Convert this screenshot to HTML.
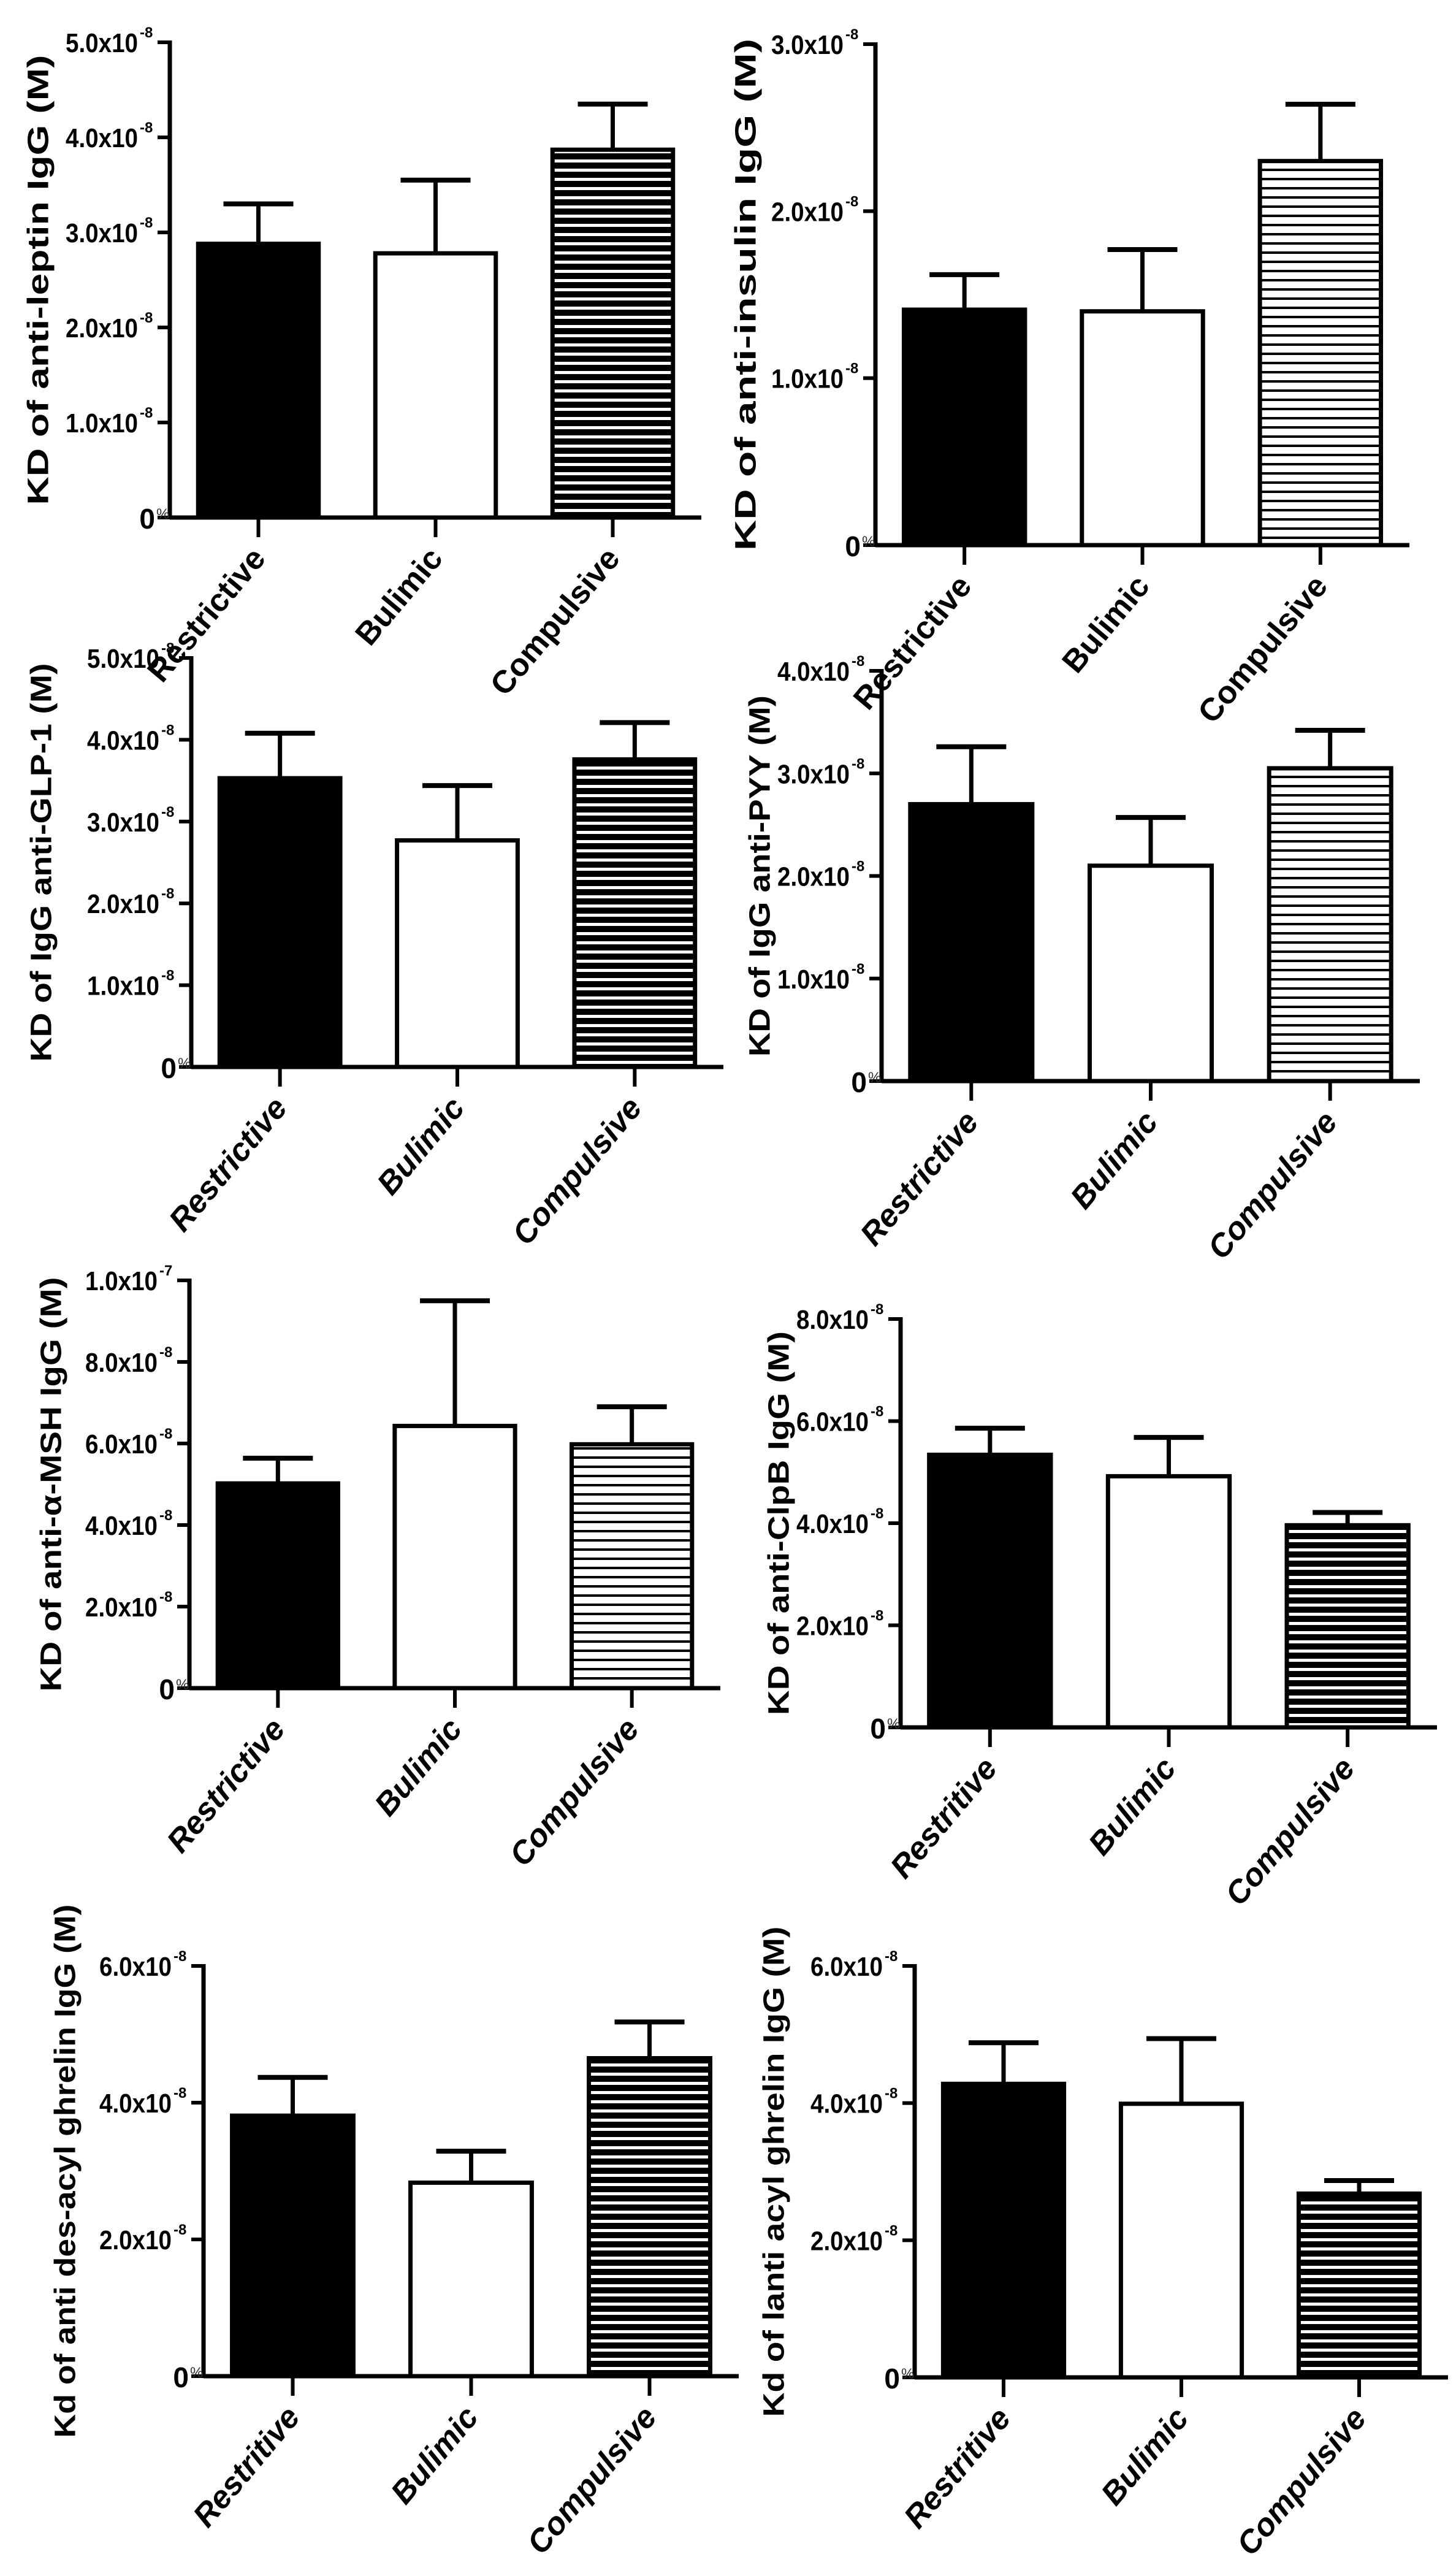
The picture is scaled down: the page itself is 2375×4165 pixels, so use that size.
<!DOCTYPE html>
<html><head><meta charset="utf-8"><style>
html,body{margin:0;padding:0;background:#fff;}
svg{display:block;font-family:"Liberation Sans",Arial,sans-serif;}
</style></head>
<body>
<svg id="fig" xmlns="http://www.w3.org/2000/svg" width="2375" height="4165" viewBox="0 0 2375 4165">
<defs>
<pattern id="hatchDark" patternUnits="userSpaceOnUse" width="20" height="15"><rect width="20" height="15" fill="#000"/><rect y="5" width="20" height="5" fill="#fff"/></pattern>
<pattern id="hatchLight" patternUnits="userSpaceOnUse" width="20" height="15"><rect width="20" height="15" fill="#fff"/><rect y="5" width="20" height="4" fill="#000"/></pattern>
</defs>
<rect width="2375" height="4165" fill="#fff"/>
</svg>
<script>
// ---- data (units of 1e-8 M) ----
const categoriesA = ["Restrictive", "Bulimic", "Compulsive"];
const categoriesB = ["Restritive", "Bulimic", "Compulsive"];
const leptinMeans = [2.88, 2.78, 3.87];
const leptinSem = [0.42, 0.77, 0.48];
const insulinMeans = [1.41, 1.40, 2.30];
const insulinSem = [0.21, 0.37, 0.34];
const glp1Means = [3.53, 2.77, 3.76];
const glp1Sem = [0.55, 0.67, 0.45];
const pyyMeans = [2.70, 2.10, 3.05];
const pyySem = [0.56, 0.47, 0.37];
const mshMeans = [5.02, 6.43, 5.98];
const mshSem = [0.62, 3.07, 0.92];
const clpbMeans = [5.34, 4.92, 3.96];
const clpbSem = [0.52, 0.76, 0.25];
const desacylMeans = [3.81, 2.83, 4.65];
const desacylSem = [0.56, 0.46, 0.53];
const acylMeans = [4.28, 3.99, 2.68];
const acylSem = [0.60, 0.95, 0.19];
const ticks5 = [0, 1, 2, 3, 4, 5];
const tickLabels5 = ["0", "1.0x10", "2.0x10", "3.0x10", "4.0x10", "5.0x10"];
const ticks3 = [0, 1, 2, 3];
const tickLabels3 = ["0", "1.0x10", "2.0x10", "3.0x10"];
const ticks4 = [0, 1, 2, 3, 4];
const tickLabels4 = ["0", "1.0x10", "2.0x10", "3.0x10", "4.0x10"];
const ticks10 = [0, 2, 4, 6, 8, 10];
const tickLabels10 = ["0", "2.0x10", "4.0x10", "6.0x10", "8.0x10", "1.0x10"];
const tickExp10 = ["", "-8", "-8", "-8", "-8", "-7"];
const ticks8 = [0, 2, 4, 6, 8];
const tickLabels8 = ["0", "2.0x10", "4.0x10", "6.0x10", "8.0x10"];
const ticks6 = [0, 2, 4, 6];
const tickLabels6 = ["0", "2.0x10", "4.0x10", "6.0x10"];

const panels = [
 {name:"leptin", title:"KD of anti-leptin IgG (M)", cats:categoriesA, means:leptinMeans, sem:leptinSem, ticks:ticks5, labels:tickLabels5, exps:null, fills:["#000","#fff","url(#hatchDark)"], x0:277,x1:1144,yTop:69,yZero:844,yMax:5,titleX:63,titleLen:734,italic:false},
 {name:"insulin", title:"KD of  anti-insulin IgG (M)", cats:categoriesA, means:insulinMeans, sem:insulinSem, ticks:ticks3, labels:tickLabels3, exps:null, fills:["#000","#fff","url(#hatchLight)"], x0:1428,x1:2299,yTop:72,yZero:889,yMax:3,titleX:1217,titleLen:835,italic:false},
 {name:"glp1", title:"KD of IgG anti-GLP-1 (M)", cats:categoriesA, means:glp1Means, sem:glp1Sem, ticks:ticks5, labels:tickLabels5, exps:null, fills:["#000","#fff","url(#hatchDark)"], x0:312,x1:1180,yTop:1073,yZero:1740,yMax:5,titleX:68,titleLen:650,italic:true},
 {name:"pyy", title:"KD of IgG anti-PYY (M)", cats:categoriesA, means:pyyMeans, sem:pyySem, ticks:ticks4, labels:tickLabels4, exps:null, fills:["#000","#fff","url(#hatchLight)"], x0:1438,x1:2316,yTop:1094,yZero:1763,yMax:4,titleX:1240,titleLen:589,italic:true},
 {name:"msh", title:"KD of anti-\u03b1-MSH IgG (M)", cats:categoriesA, means:mshMeans, sem:mshSem, ticks:ticks10, labels:tickLabels10, exps:tickExp10, fills:["#000","#fff","url(#hatchLight)"], x0:309,x1:1175,yTop:2088,yZero:2753,yMax:10,titleX:84,titleLen:676,italic:true},
 {name:"clpb", title:"KD of  anti-ClpB IgG (M)", cats:categoriesB, means:clpbMeans, sem:clpbSem, ticks:ticks8, labels:tickLabels8, exps:null, fills:["#000","#fff","url(#hatchDark)"], x0:1469,x1:2344,yTop:2151,yZero:2817,yMax:8,titleX:1271,titleLen:626,italic:true},
 {name:"desacyl-ghrelin", title:"Kd of anti des-acyl ghrelin IgG (M)", cats:categoriesB, means:desacylMeans, sem:desacylSem, ticks:ticks6, labels:tickLabels6, exps:null, fills:["#000","#fff","url(#hatchDark)"], x0:332,x1:1205,yTop:3206,yZero:3875,yMax:6,titleX:107,titleLen:870,italic:true},
 {name:"acyl-ghrelin", title:"Kd of lanti acyl ghrelin IgG (M)", cats:categoriesB, means:acylMeans, sem:acylSem, ticks:ticks6, labels:tickLabels6, exps:null, fills:["#000","#fff","url(#hatchDark)"], x0:1492,x1:2362,yTop:3206,yZero:3877,yMax:6,titleX:1263,titleLen:800,italic:true}
];

const NS = "http://www.w3.org/2000/svg";
const svg = document.getElementById("fig");
function mk(tag, attrs, parent){
  const e = document.createElementNS(NS, tag);
  for (const k in attrs) e.setAttribute(k, attrs[k]);
  parent.appendChild(e);
  return e;
}

panels.forEach(function(p){
  const g = mk("g", {}, svg);
  
  
  const yScale = function(v){ return p.yZero - (v / p.yMax) * (p.yZero - p.yTop); };
  const step = (p.x1 - p.x0) / 3;
  const xCenter = function(i){ return p.x0 + (i + 0.5) * step; };
  const bw = step * 0.68;

  p.means.forEach(function(m, i){
    const cx = xCenter(i);
    const top = yScale(m);
    const errTop = yScale(m + p.sem[i]);
    const eb = mk("line", {x1:cx, x2:cx, y1:top, y2:errTop, stroke:"#000", "stroke-width":7}, g);
    
    
    const cap = mk("line", {x1:cx - 57, x2:cx + 57, y1:errTop, y2:errTop, stroke:"#000", "stroke-width":8}, g);
    
    
    const r = mk("rect", {x:cx - bw/2, y:top, width:bw, height:p.yZero - top, fill:p.fills[i], stroke:"#000", "stroke-width":7}, g);
    
    
    const xt = mk("line", {x1:cx, x2:cx, y1:p.yZero, y2:p.yZero + 32, stroke:"#000", "stroke-width":6}, g);
    
    
    const lx = cx + 14, ly = p.yZero + 68;
    const t = mk("text", {x:lx, y:ly, transform:"rotate(-50 " + lx + " " + ly + ")", "text-anchor":"end", "font-size":52, "font-weight":"bold", "font-style":p.italic ? "italic" : "normal", fill:"#000"}, g);
    t.textContent = p.cats[i];
    
    
  });

  const ya = mk("line", {x1:p.x0, x2:p.x0, y1:p.yTop - 3, y2:p.yZero + 3, stroke:"#000", "stroke-width":7}, g);
  
  
  const xa = mk("line", {x1:p.x0, x2:p.x1, y1:p.yZero, y2:p.yZero, stroke:"#000", "stroke-width":7}, g);
  
  

  p.ticks.forEach(function(v, j){
    const y = yScale(v);
    const tk = mk("line", {x1:p.x0 - 20, x2:p.x0, y1:y, y2:y, stroke:"#000", "stroke-width":6}, g);
    
    
    if (v === 0) {
      const z = mk("text", {x:p.x0 - 24, y:y + 18, "text-anchor":"end", "font-size":46, "font-weight":"bold", fill:"#000"}, g);
      z.textContent = "0";
      
      
      const pc = mk("text", {x:p.x0 - 22, y:y + 2, "font-size":24, fill:"#333"}, g);
      pc.textContent = "%";
      
      
    } else {
      const lab = mk("text", {x:p.x0 - 52, y:y + 16, "text-anchor":"end", "font-size":44, "font-weight":"bold", textLength:118, lengthAdjust:"spacingAndGlyphs", fill:"#000"}, g);
      lab.textContent = p.labels[j];
      
      
      const ex = mk("text", {x:p.x0 - 49, y:y - 8, "font-size":24, "font-weight":"bold", fill:"#000"}, g);
      ex.textContent = p.exps ? p.exps[j] : "-8";
      
      
    }
  });

  const cy = (p.yTop + p.yZero) / 2;
  const tt = mk("text", {x:p.titleX, y:cy, transform:"rotate(-90 " + p.titleX + " " + cy + ")", "text-anchor":"middle", "dominant-baseline":"central", "font-size":48, "font-weight":"bold", textLength:p.titleLen, lengthAdjust:"spacingAndGlyphs", fill:"#000"}, g);
  tt.textContent = p.title;
  
  
});
</script>
</body></html>
